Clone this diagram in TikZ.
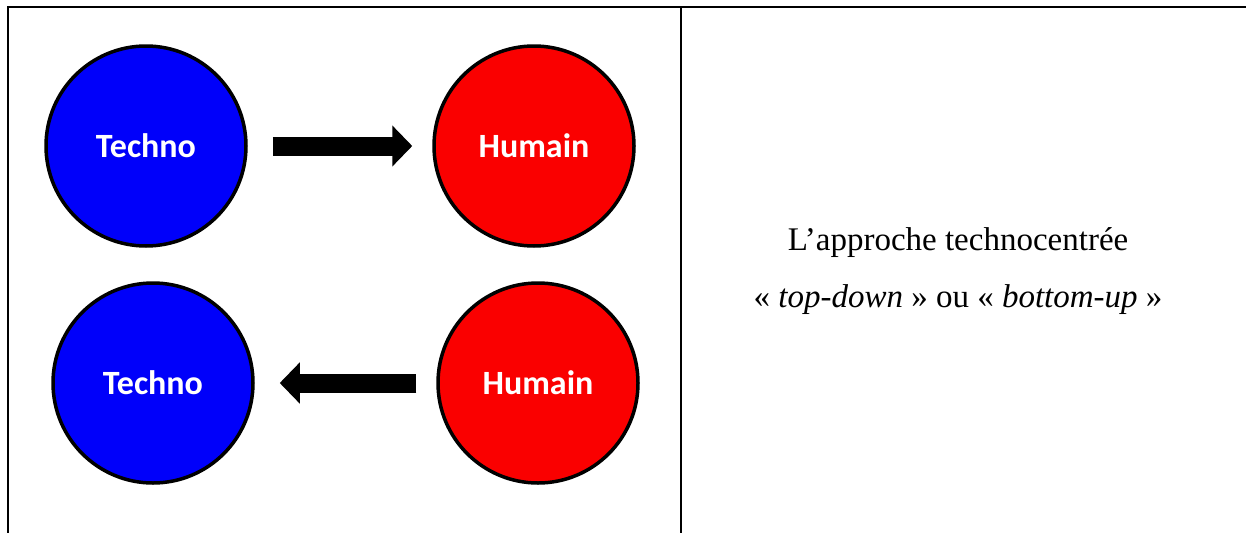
\documentclass[tikz,border=0pt]{standalone}
\usepackage{fontspec}
\setmainfont{Liberation Serif}
\newfontfamily\circfont{Carlito}
\usetikzlibrary{arrows.meta}
\definecolor{techblue}{RGB}{0,0,250}
\definecolor{humred}{RGB}{250,0,0}
\tikzset{
  bubble/.style={circle, draw=black, line width=3.5pt, minimum size=200pt, inner sep=0pt,
    text=white, font=\circfont\bfseries\fontsize{34}{36}\selectfont},
  techno/.style={bubble, fill=techblue},
  humain/.style={bubble, fill=humred},
  fatarrow/.style={line width=19pt, -{Triangle[length=20pt,width=40pt]}},
  frame/.style={line width=2pt, black},
  caption/.style={align=center, font=\fontsize{33}{57}\selectfont, inner sep=0pt}
}
\begin{document}
\begin{tikzpicture}[x=1pt,y=-1pt]
\useasboundingbox (0,0) rectangle (1246,533);
% frame
\coordinate (tl) at (7,7);
\coordinate (tr) at (1246,7);
\coordinate (bl) at (8,533);
\coordinate (dtop) at (681,7);
\coordinate (dbot) at (681,533);
\draw[frame] (tl) -- (tr);
\draw[frame] (8,6) -- (bl);
\draw[frame] (dtop) -- (dbot);
% circles
\node[techno] (t1) at (146,146) {Techno};
\node[humain] (h1) at (534,146) {Humain};
\node[techno] (t2) at (153,383) {Techno};
\node[humain] (h2) at (538,383) {Humain};
% arrows
\draw[fatarrow, shorten <=25pt, shorten >=20pt] (t1) -- (h1);
\draw[fatarrow, shorten <=20pt, shorten >=25pt] (h2) -- (t2);
% caption
\node[caption] (cap) at (958,271) {L’approche technocentrée\\« \textit{top-down} » ou « \textit{bottom-up} »};
\end{tikzpicture}
\end{document}
